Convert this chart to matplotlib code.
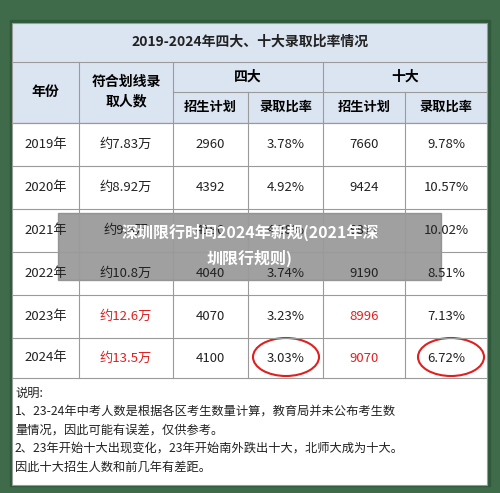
import matplotlib.pyplot as plt
from matplotlib.patches import Rectangle, Ellipse

plt.rcParams['font.family'] = ['Noto Sans CJK SC', 'DejaVu Sans']

years = ['2019年', '2020年', '2021年', '2022年', '2023年', '2024年']
qualified = ['约7.83万', '约8.92万', '约9.8万', '约10.8万', '约12.6万', '约13.5万']
big4_plan = ['2960', '4392', '4190', '4040', '4070', '4100']
big4_rate = ['3.78%', '4.92%', '4.28%', '3.74%', '3.23%', '3.03%']
top10_plan = ['7660', '9424', '9811', '9190', '8996', '9070']
top10_rate = ['9.78%', '10.57%', '10.02%', '8.51%', '7.13%', '6.72%']
red_rows = [4, 5]  # 2023/2024 highlighted in red
notes = ['说明:',
         '1、23-24年中考人数是根据各区考生数量计算，教育局并未公布考生数',
         '量情况，因此可能有误差，仅供参考。',
         '2、23年开始十大出现变化，23年开始南外跌出十大，北师大成为十大。',
         '因此十大招生人数和前几年有差距。']

fig = plt.figure(figsize=(5, 4.93), dpi=100)
ax = fig.add_axes([0, 0, 1, 1])
ax.set_xlim(0, 500)
ax.set_ylim(493, 0)
ax.axis('off')
fig.patch.set_facecolor('#3f6b4a')

cols = [12, 79, 173, 248, 323, 405, 487]
rows = [123, 166, 209, 252, 295, 338, 378]
hdr = '#dbe5f1'
line = '#9a9a9a'

ax.add_patch(Rectangle((10, 20), 480, 466, color='#2f5a3a'))
ax.add_patch(Rectangle((cols[0], 23), cols[-1] - cols[0], 100, fc=hdr, ec=line, lw=0.8))
ax.add_patch(Rectangle((cols[0], 123), cols[-1] - cols[0], 362, fc='white', ec=line, lw=0.8))
ax.text(250, 42, '2019-2024年四大、十大录取比率情况', ha='center', va='center', fontsize=10, fontweight='bold', color='#222')
ax.plot([cols[0], cols[-1]], [62, 62], color=line, lw=0.8)
ax.plot([cols[2], cols[-1]], [92, 92], color=line, lw=0.8)
for x in cols[1:-1]:
    y0 = 92 if x in (cols[3], cols[5]) else 62
    ax.plot([x, x], [y0, rows[-1]], color=line, lw=0.8)
for y in rows:
    ax.plot([cols[0], cols[-1]], [y, y], color=line, lw=0.8)

ax.text(45, 92, '年份', ha='center', va='center', fontsize=10, fontweight='bold')
ax.text(126, 92, '符合划线录\n取人数', ha='center', va='center', fontsize=10, fontweight='bold', linespacing=1.5)
ax.text(248, 77, '四大', ha='center', va='center', fontsize=10, fontweight='bold')
ax.text(405, 77, '十大', ha='center', va='center', fontsize=10, fontweight='bold')
for i, t in enumerate(['招生计划', '录取比率', '招生计划', '录取比率']):
    ax.text((cols[i + 2] + cols[i + 3]) / 2, 107, t, ha='center', va='center', fontsize=9.5, fontweight='bold')

for r in range(len(years)):
    yc = (rows[r] + rows[r + 1]) / 2
    red = '#e02020' if r in red_rows else '#222'
    vals = [years[r], qualified[r], big4_plan[r], big4_rate[r], top10_plan[r], top10_rate[r]]
    for c, v in enumerate(vals):
        color = red if c in (1, 4) else '#222'
        ax.text((cols[c] + cols[c + 1]) / 2, yc, v, ha='center', va='center', fontsize=9.5, color=color)

ax.add_patch(Ellipse((286, 357), 66, 38, fill=False, ec='#e02020', lw=1.5))
ax.add_patch(Ellipse((451, 357), 66, 38, fill=False, ec='#e02020', lw=1.5))

for i, t in enumerate(notes):
    ax.text(15, 393 + i * 18.5, t, ha='left', va='center', fontsize=8.8, color='#222')

ax.add_patch(Rectangle((58, 213), 383, 67, color='#808080', alpha=0.75))
ax.text(250, 232, '深圳限行时间2024年新规(2021年深', ha='center', va='center', fontsize=11.5, fontweight='bold', color='white')
ax.text(250, 258, '圳限行规则)', ha='center', va='center', fontsize=11.5, fontweight='bold', color='white')

fig.savefig('out.png', dpi=100)
